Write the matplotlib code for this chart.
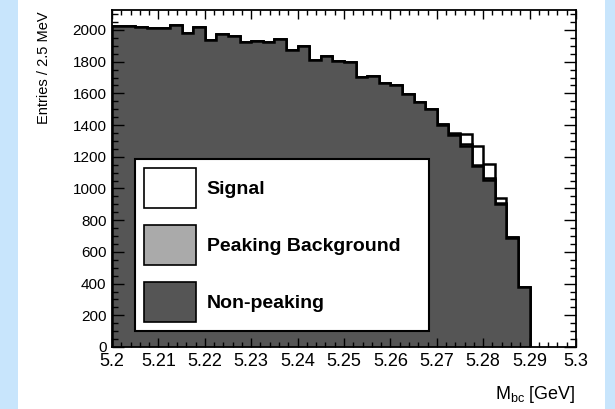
import numpy as np
import matplotlib
matplotlib.use('Agg')
import matplotlib.pyplot as plt
from matplotlib.patches import Patch, Rectangle

plt.rcParams['font.family'] = 'Liberation Sans'
plt.rcParams['mathtext.default'] = 'regular'

# Mbc histogram, 2.5 MeV bins from 5.200 to 5.290 GeV
bin_lo = 5.2
bin_hi = 5.29
n_bins = 36
nonpeak = [2025, 2024, 2020, 2015, 2015, 2030, 1983, 2021, 1937, 1977,
           1964, 1924, 1932, 1924, 1945, 1876, 1901, 1811, 1838, 1806,
           1798, 1703, 1712, 1664, 1655, 1594, 1546, 1499, 1400, 1340,
           1270, 1140, 1055, 905, 688, 376]
peaking = [0] * 27 + [3, 5, 6, 8, 10, 10, 5, 3, 2]
signal = [0] * 29 + [2, 66, 115, 89, 32, 1, 0]
labels = ['Signal', 'Peaking Background', 'Non-peaking']
colors = ['white', '#aaaaaa', '#555555']

edges = np.linspace(bin_lo, bin_hi, n_bins + 1)
nonpeak = np.array(nonpeak)
peaking = np.array(peaking)
signal = np.array(signal)

fig = plt.figure(figsize=(6.15, 4.09), dpi=100)
fig.patch.set_facecolor('white')
fig.patches.append(Rectangle((0, 0), 18 / 615, 1, transform=fig.transFigure,
                             facecolor='#c8e5fc', edgecolor='none', zorder=0))
fig.patches.append(Rectangle((605 / 615, 0), 10 / 615, 1, transform=fig.transFigure,
                             facecolor='#c8e5fc', edgecolor='none', zorder=0))

ax = fig.add_axes([112 / 615, 1 - 347 / 409, 464 / 615, 337 / 409])

# stack drawn from the top down, like THStack
layers = [nonpeak + peaking + signal, nonpeak + peaking, nonpeak]
for vals, col in zip(layers, colors):
    ax.stairs(vals, edges, baseline=0, fill=True, color=col)
    ax.stairs(vals, edges, baseline=0, fill=False, color='black', linewidth=1.8)

ax.set_xlim(5.2, 5.3)
ax.set_ylim(0, 2126)
ax.set_xticks(np.arange(5.2, 5.3001, 0.01))
ax.set_xticklabels(['5.2', '5.21', '5.22', '5.23', '5.24', '5.25', '5.26',
                    '5.27', '5.28', '5.29', '5.3'])
ax.set_xticks(np.arange(5.2, 5.3001, 0.002), minor=True)
ax.set_yticks(np.arange(0, 2001, 200))
ax.set_yticks(np.arange(0, 2101, 50), minor=True)

ax.tick_params(which='both', direction='in', top=True, right=True, colors='black')
ax.tick_params(axis='x', which='major', length=6.5, width=1, labelsize=13, pad=4)
ax.tick_params(axis='x', which='minor', length=3.3, width=1)
ax.tick_params(axis='y', which='major', length=8.5, width=1, labelsize=11, pad=4)
ax.tick_params(axis='y', which='minor', length=4.3, width=1)
for sp in ax.spines.values():
    sp.set_linewidth(1.3)

ax.set_xlabel(r'M$_{bc}$ [GeV]', fontsize=13, loc='right')
ax.xaxis.set_label_coords(1.0, -0.11)
ax.set_ylabel('Entries / 2.5 MeV', fontsize=10.5, loc='top')
ax.yaxis.set_label_coords(-0.132, 0.995)

handles = [Patch(facecolor=c, edgecolor='black', linewidth=1.2) for c in colors]
leg = ax.legend(handles, labels, loc='upper left',
                bbox_to_anchor=(0.0496, 0.047, 0.633, 0.511), mode='expand',
                borderaxespad=0, prop={'weight': 'bold', 'size': 14},
                handlelength=2.68, handleheight=2.79, labelspacing=0.88,
                borderpad=0.46, handletextpad=0.55, fancybox=False,
                framealpha=1, edgecolor='black')
leg.get_frame().set_linewidth(1.5)

fig.savefig('out.png', dpi=100)
